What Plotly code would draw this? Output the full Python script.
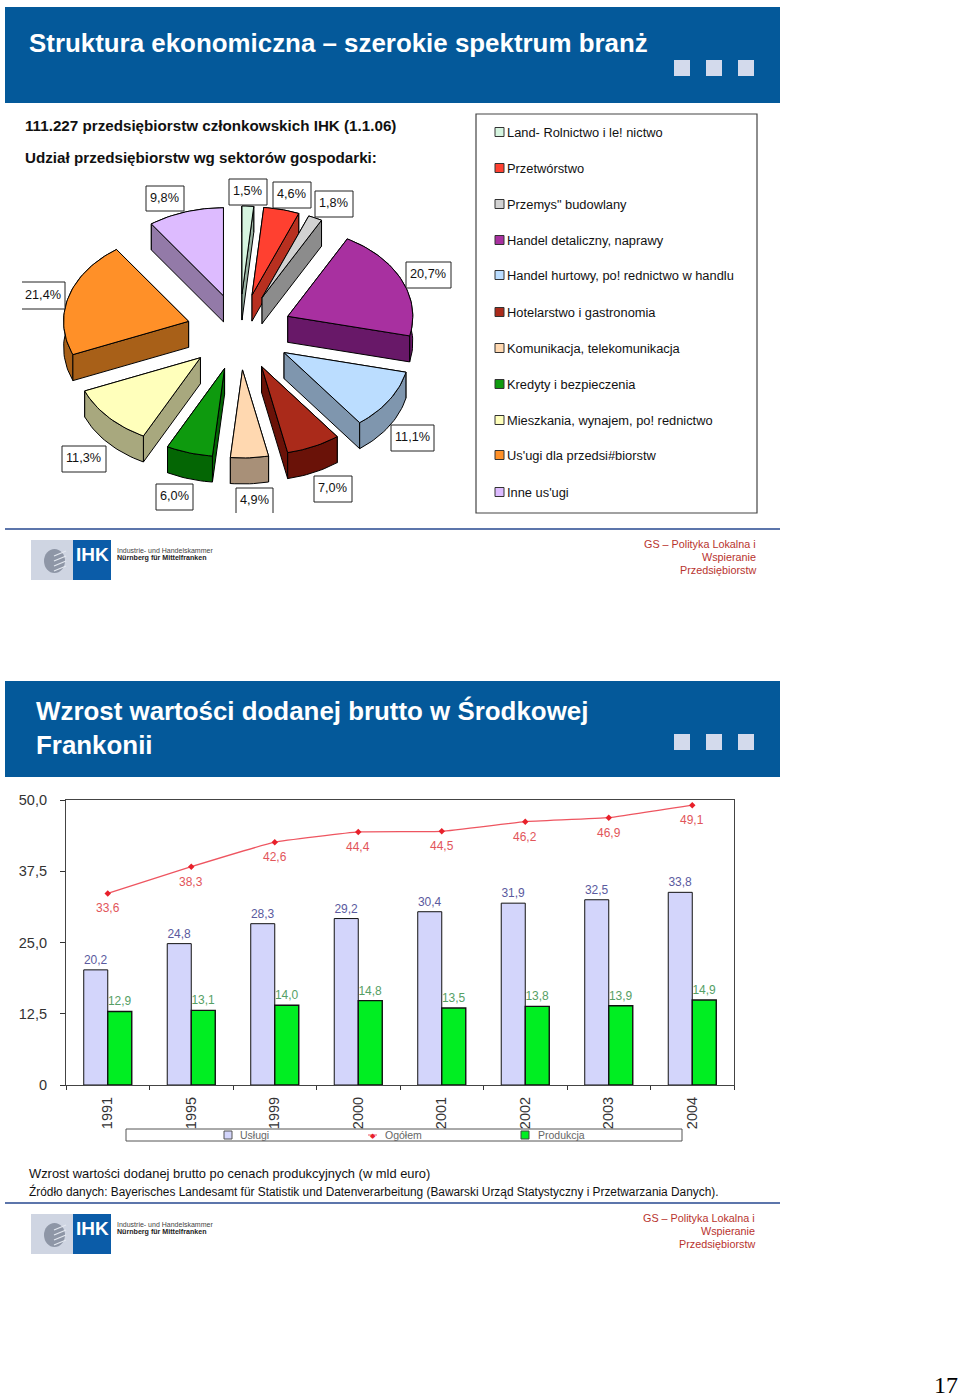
import math
import plotly.graph_objects as go

W, H = 960, 1394
FONT = "Liberation Sans, Arial, sans-serif"

# ---------- data ----------
SECTORS = ["Land- Rolnictwo i le! nictwo", "Przetwórstwo", 'Przemys" budowlany',
           "Handel detaliczny, naprawy", "Handel hurtowy, po! rednictwo w handlu",
           "Hotelarstwo i gastronomia", "Komunikacja, telekomunikacja",
           "Kredyty i bezpieczenia", "Mieszkania, wynajem, po! rednictwo",
           "Us'ugi dla przedsi#biorstw", "Inne us'ugi"]
SHARES = [1.5, 4.6, 1.8, 20.7, 11.1, 7.0, 4.9, 6.0, 11.3, 21.4, 9.8]
TOP_COLORS = ["#D6F5E0", "#FF4030", "#D2D2D2", "#A830A0", "#BBDDFF", "#AA2A1A",
              "#FFD8B0", "#0E9A0E", "#FFFFBB", "#FF9028", "#DDBBFF"]
WALL_COLORS = ["#98B0A0", "#B83020", "#8C8C8C", "#681868", "#7F96AE", "#6A1208",
               "#A89078", "#046604", "#A8A87E", "#A86018", "#937AA8"]

YEARS = ["1991", "1995", "1999", "2000", "2001", "2002", "2003", "2004"]
USLUGI = [20.2, 24.8, 28.3, 29.2, 30.4, 31.9, 32.5, 33.8]
OGOLEM = [33.6, 38.3, 42.6, 44.4, 44.5, 46.2, 46.9, 49.1]
PRODUKCJA = [12.9, 13.1, 14.0, 14.8, 13.5, 13.8, 13.9, 14.9]
Y_TICKS = [0, 12.5, 25, 37.5, 50]
Y_TICK_LABELS = ["0", "12,5", "25,0", "37,5", "50,0"]

# ---------- figure ----------
fig = go.Figure()
shapes, annos = [], []


def rect(x0, y0, x1, y1, fill="rgba(0,0,0,0)", line=None, lw=1):
    shapes.append(dict(type="rect", xref="x", yref="y", x0=x0, y0=y0, x1=x1, y1=y1,
                       fillcolor=fill, line=dict(color=line or fill, width=lw if line else 0)))


def text(x, y, s, size=12, color="#000", anchor="left", bold=False, family=FONT):
    annos.append(dict(xref="x", yref="y", x=x, y=y, text=f"<b>{s}</b>" if bold else s,
                      showarrow=False, xanchor=anchor, yanchor="middle",
                      font=dict(size=size, color=color, family=family), borderpad=0, borderwidth=0))


# exploded tilted pie
CX, CY, RX, RY, EX, EY, DEPTH = 239.5, 332, 125, 88, 53, 38, 26


def pt(ax, ay, ang, rx, ry):
    return ax + rx * math.sin(ang), ay - ry * math.cos(ang)


def slices():
    total = sum(SHARES)
    cum = 0
    out = []
    for i, v in enumerate(SHARES):
        a0 = cum / total * 2 * math.pi
        cum += v
        a1 = cum / total * 2 * math.pi
        out.append((i, a0, a1))
    return out


def poly(trace_pts, fill):
    xs = [p[0] for p in trace_pts] + [trace_pts[0][0]]
    ys = [p[1] for p in trace_pts] + [trace_pts[0][1]]
    fig.add_trace(go.Scatter(x=xs, y=ys, mode="lines", fill="toself", fillcolor=fill,
                             line=dict(color="#000", width=1), hoverinfo="skip",
                             showlegend=False, xaxis="x", yaxis="y"))


order = sorted(slices(), key=lambda s: math.cos((s[1] + s[2]) / 2), reverse=True)
for i, a0, a1 in order:
    mid = (a0 + a1) / 2
    ax, ay = pt(CX, CY, mid, EX, EY)
    n = max(3, int((a1 - a0) / 0.03))
    arc = [pt(ax, ay, a0 + (a1 - a0) * k / n, RX, RY) for k in range(n + 1)]
    down = lambda p: (p[0], p[1] + DEPTH)
    apex = (ax, ay)
    # walls painted back to front, then the top face
    walls = [[apex, arc[0], down(arc[0]), down(apex)],
             [apex, arc[-1], down(arc[-1]), down(apex)],
             arc + [down(p) for p in reversed(arc)]]
    walls.sort(key=lambda w: sum(p[1] for p in w) / len(w))
    for w in walls:
        poly(w, WALL_COLORS[i])
    poly([apex] + arc, TOP_COLORS[i])

# bars and line, on the library's own axes
fmt = lambda v: f"{v:.1f}".replace(".", ",")
fig.add_trace(go.Bar(x=YEARS, y=USLUGI, name="Usługi", xaxis="x2", yaxis="y2",
                     marker=dict(color="#D3D5FB", line=dict(color="#111", width=1)),
                     text=[fmt(v) for v in USLUGI], textposition="outside",
                     textfont=dict(size=12, color="#5A5A9E", family=FONT), cliponaxis=False,
                     textangle=0, showlegend=False))
fig.add_trace(go.Bar(x=YEARS, y=PRODUKCJA, name="Produkcja", xaxis="x2", yaxis="y2",
                     marker=dict(color="#00EE22", line=dict(color="#111", width=1.4)),
                     text=[fmt(v) for v in PRODUKCJA], textposition="outside",
                     textfont=dict(size=12, color="#55A065", family=FONT), cliponaxis=False,
                     textangle=0, showlegend=False))
fig.add_trace(go.Scatter(x=YEARS, y=OGOLEM, name="Ogółem", xaxis="x2", yaxis="y2",
                         mode="lines+markers",
                         line=dict(color="#EE5560", width=1.3, shape="spline", smoothing=0.25),
                         marker=dict(color="#E8202A", size=5, symbol="diamond"),
                         cliponaxis=False, showlegend=False))
for k, v in enumerate(OGOLEM):
    annos.append(dict(xref="x2", yref="y2", x=k, y=v, yshift=-15, text=fmt(v), showarrow=False,
                      yanchor="middle", xanchor="center", borderwidth=0, borderpad=0,
                      font=dict(size=12, color="#E2555A", family=FONT)))

# headers
BLUE = "#04599A"
SQUARE = "#D3DAEC"
for top in (7, 681):
    rect(5, top, 780, top + 96, BLUE)
    for sx in (674, 706, 738):
        rect(sx, top + 53, sx + 16, top + 69, SQUARE)
text(29, 43, "Struktura ekonomiczna – szerokie spektrum branż", 25.9, "#fff", bold=True)
text(36, 710, "Wzrost wartości dodanej brutto w Środkowej", 25.9, "#fff", bold=True)
text(36, 745, "Frankonii", 25.9, "#fff", bold=True)

# first-slide heading
text(25, 125, "111.227 przedsiębiorstw członkowskich IHK (1.1.06)", 15.2, "#111", bold=True)
text(25, 157, "Udział przedsiębiorstw wg sektorów gospodarki:", 15.2, "#111", bold=True)

# pie value boxes
BOXES = [(229, 179, 267, 205), (273, 182, 311, 208), (315, 191, 353, 217), (406, 262, 451, 288),
         (391, 425, 434, 451), (314, 476, 352, 502), (236, 488, 273, 514), (156, 484, 193, 510),
         (62, 446, 106, 472), (21, 282, 65, 309), (146, 186, 184, 211)]
for b, v in zip(BOXES, SHARES):
    rect(*b, fill="#fff", line="#222", lw=1)
    text((b[0] + b[2]) / 2 - 0.5, (b[1] + b[3]) / 2 - 1, fmt(v) + "%", 12.7, "#111", "center")
# the two clipped boxes lose one border
shapes.append(dict(type="line", xref="x", yref="y", x0=235, x1=274, y0=514, y1=514, line=dict(color="#fff", width=2)))
shapes.append(dict(type="line", xref="x", yref="y", x0=21, x1=21, y0=281, y1=310, line=dict(color="#fff", width=2)))

# sector legend
rect(476, 114, 757, 513, "#fff", "#444", 1.2)
ROWS = [132, 168, 204, 240, 275, 312, 348, 384, 420, 455, 492]
for s, c, r in zip(SECTORS, TOP_COLORS, ROWS):
    rect(495, r - 4.5, 504, r + 4.5, c, "#333", 1)
    text(507, r, s, 12.85, "#111")

# footers
for line_y, off, rx_ in ((529, 0, 756), (1203, 674, 755)):
    shapes.append(dict(type="line", xref="x", yref="y", x0=5, x1=780, y0=line_y, y1=line_y,
                       line=dict(color="#26478F", width=1.4)))
    rect(31, 540 + off, 73, 580 + off, "#CFD5E2")
    rect(73, 540 + off, 111, 580 + off, "#0B5CA8")
    shapes.append(dict(type="circle", xref="x", yref="y", x0=44, x1=65, y0=549 + off, y1=573 + off,
                       fillcolor="#8E96A6", line=dict(width=0)))
    for sy in (553, 558, 563, 568):
        shapes.append(dict(type="line", xref="x", yref="y", x0=54, x1=66, y0=sy + off + 3, y1=sy + off - 2,
                           line=dict(color="#E4E8F0", width=1.2)))
    text(92, 554 + off, "IHK", 19, "#fff", "center", bold=True)
    text(117, 550 + off, "Industrie- und Handelskammer", 7, "#444")
    text(117, 558 + off, "Nürnberg für Mittelfranken", 7.1, "#222", bold=True)
    for dy, s in zip((544, 557, 570), ("GS – Polityka Lokalna i", "Wspieranie", "Przedsiębiorstw")):
        text(rx_, dy + off, s, 10.8, "#B8332E", "right")

# bar chart legend
rect(126, 1129, 682, 1141, "#fff", "#555", 1)
rect(224, 1131, 232, 1139, "#D3D5FB", "#555", 1)
text(240, 1135, "Usługi", 10.5, "#666")
shapes.append(dict(type="line", xref="x", yref="y", x0=368, x1=377, y0=1135, y1=1135, line=dict(color="#EE5560", width=1)))
text(372.5, 1135, "◆", 7, "#E8202A", "center")
text(385, 1135, "Ogółem", 10.5, "#666")
rect(521, 1131, 529, 1139, "#00EE22", "#444", 1)
text(538, 1135, "Produkcja", 10.5, "#666")

# captions
text(29, 1173, "Wzrost wartości dodanej brutto po cenach produkcyjnych (w mld euro)", 12.9, "#111")
text(29, 1191, "Źródło danych: Bayerisches Landesamt für Statistik und Datenverarbeitung (Bawarski Urząd Statystyczny i Przetwarzania Danych).", 11.87, "#111")
text(958, 1385, "17", 24, "#000", "right", family="Liberation Serif, Times New Roman, serif")

fig.update_layout(
    width=W, height=H, margin=dict(l=0, r=0, t=0, b=0, pad=0, autoexpand=False), autosize=False,
    paper_bgcolor="#fff", plot_bgcolor="rgba(0,0,0,0)", showlegend=False,
    barmode="group", bargap=0.425, bargroupgap=0, font=dict(family=FONT),
    shapes=shapes, annotations=annos, hovermode=False,
    xaxis=dict(range=[0, W], domain=[0, 1], visible=False, fixedrange=True),
    yaxis=dict(range=[H, 0], domain=[0, 1], visible=False, fixedrange=True),
    xaxis2=dict(domain=[66 / W, 734 / W], anchor="y2", type="category", categoryorder="array",
                categoryarray=YEARS, range=[-0.5, 7.5], tickson="boundaries", ticks="outside", ticklen=4,
                tickcolor="#333", linecolor="#444", linewidth=1.2, mirror=True, showline=True,
                showgrid=False, tickangle=-90, ticklabelstandoff=5,
                tickfont=dict(size=14.5, color="#333", family=FONT), fixedrange=True),
    yaxis2=dict(domain=[(H - 1085) / H, (H - 800) / H], anchor="x2", range=[0, 50],
                tickmode="array", tickvals=Y_TICKS, ticktext=Y_TICK_LABELS, ticks="outside",
                ticklen=5, tickcolor="#333", linecolor="#444", linewidth=1.2, mirror=True,
                showline=True, showgrid=False, zeroline=False, ticklabelstandoff=10,
                tickfont=dict(size=14.5, color="#333", family=FONT), fixedrange=True),
)

fig.write_html("out.html", config={"displayModeBar": False},
               post_script="document.body.style.margin='0';document.documentElement.style.overflow='hidden';")
